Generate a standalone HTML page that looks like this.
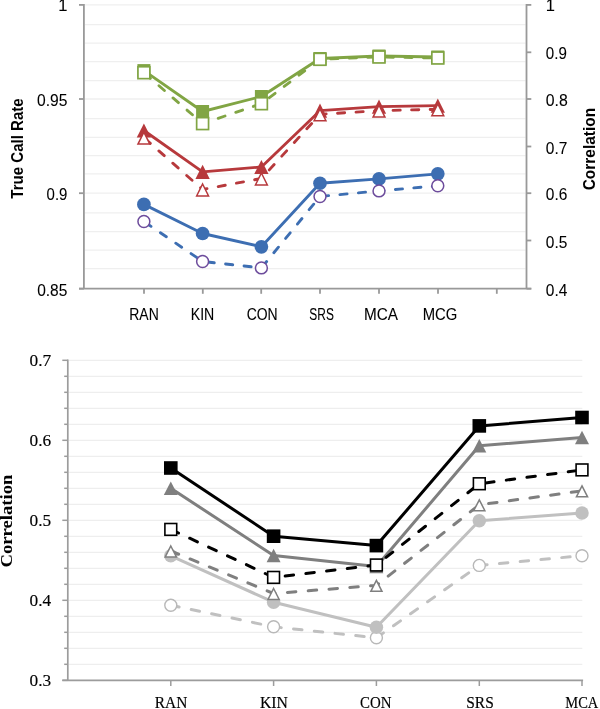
<!DOCTYPE html>
<html><head><meta charset="utf-8"><style>
html,body{margin:0;padding:0;background:#fff;width:600px;height:709px;overflow:hidden}
svg{display:block;position:absolute;left:0;top:0;will-change:transform}
</style></head><body>
<svg width="600" height="709" viewBox="0 0 600 709">
<rect width="600" height="709" fill="#fff"/>
<line x1="84.9" y1="4.90" x2="525.5" y2="4.90" stroke="#efefef" stroke-width="1.3"/>
<line x1="84.9" y1="24.70" x2="525.5" y2="24.70" stroke="#efefef" stroke-width="1.3"/>
<line x1="84.9" y1="43.05" x2="525.5" y2="43.05" stroke="#efefef" stroke-width="1.3"/>
<line x1="84.9" y1="61.60" x2="525.5" y2="61.60" stroke="#efefef" stroke-width="1.3"/>
<line x1="84.9" y1="80.70" x2="525.5" y2="80.70" stroke="#efefef" stroke-width="1.3"/>
<line x1="84.9" y1="99.00" x2="525.5" y2="99.00" stroke="#efefef" stroke-width="1.3"/>
<line x1="84.9" y1="118.70" x2="525.5" y2="118.70" stroke="#efefef" stroke-width="1.3"/>
<line x1="84.9" y1="137.40" x2="525.5" y2="137.40" stroke="#efefef" stroke-width="1.3"/>
<line x1="84.9" y1="155.60" x2="525.5" y2="155.60" stroke="#efefef" stroke-width="1.3"/>
<line x1="84.9" y1="173.90" x2="525.5" y2="173.90" stroke="#efefef" stroke-width="1.3"/>
<line x1="84.9" y1="193.20" x2="525.5" y2="193.20" stroke="#efefef" stroke-width="1.3"/>
<line x1="84.9" y1="212.90" x2="525.5" y2="212.90" stroke="#efefef" stroke-width="1.3"/>
<line x1="84.9" y1="231.60" x2="525.5" y2="231.60" stroke="#efefef" stroke-width="1.3"/>
<line x1="84.9" y1="250.20" x2="525.5" y2="250.20" stroke="#efefef" stroke-width="1.3"/>
<line x1="84.9" y1="268.60" x2="525.5" y2="268.60" stroke="#efefef" stroke-width="1.3"/>
<line x1="83.9" y1="4.1000000000000005" x2="83.9" y2="288.7" stroke="#999999" stroke-width="1.8"/>
<line x1="526.5" y1="4.1000000000000005" x2="526.5" y2="288.7" stroke="#999999" stroke-width="1.8"/>
<line x1="79" y1="4.90" x2="83.9" y2="4.90" stroke="#999999" stroke-width="1.8"/>
<line x1="79" y1="99.00" x2="83.9" y2="99.00" stroke="#999999" stroke-width="1.8"/>
<line x1="79" y1="193.20" x2="83.9" y2="193.20" stroke="#999999" stroke-width="1.8"/>
<line x1="79" y1="288.70" x2="83.9" y2="288.70" stroke="#999999" stroke-width="1.8"/>
<line x1="526.5" y1="4.90" x2="531.3" y2="4.90" stroke="#999999" stroke-width="1.8"/>
<line x1="526.5" y1="52.30" x2="531.3" y2="52.30" stroke="#999999" stroke-width="1.8"/>
<line x1="526.5" y1="99.00" x2="531.3" y2="99.00" stroke="#999999" stroke-width="1.8"/>
<line x1="526.5" y1="146.50" x2="531.3" y2="146.50" stroke="#999999" stroke-width="1.8"/>
<line x1="526.5" y1="193.20" x2="531.3" y2="193.20" stroke="#999999" stroke-width="1.8"/>
<line x1="526.5" y1="240.50" x2="531.3" y2="240.50" stroke="#999999" stroke-width="1.8"/>
<line x1="526.5" y1="288.70" x2="531.3" y2="288.70" stroke="#999999" stroke-width="1.8"/>
<line x1="79" y1="288.7" x2="531.3" y2="288.7" stroke="#999999" stroke-width="1.8"/>
<line x1="144.0" y1="288.7" x2="144.0" y2="293.8" stroke="#999999" stroke-width="1.8"/>
<line x1="202.8" y1="288.7" x2="202.8" y2="293.8" stroke="#999999" stroke-width="1.8"/>
<line x1="261.2" y1="288.7" x2="261.2" y2="293.8" stroke="#999999" stroke-width="1.8"/>
<line x1="320.0" y1="288.7" x2="320.0" y2="293.8" stroke="#999999" stroke-width="1.8"/>
<line x1="379.0" y1="288.7" x2="379.0" y2="293.8" stroke="#999999" stroke-width="1.8"/>
<line x1="438.0" y1="288.7" x2="438.0" y2="293.8" stroke="#999999" stroke-width="1.8"/>
<line x1="496.8" y1="288.7" x2="496.8" y2="293.8" stroke="#999999" stroke-width="1.8"/>
<polyline points="143.90,204.40 202.60,233.50 261.40,246.80 320.00,183.25 379.00,178.90 437.80,173.80" fill="none" stroke="#3d6eb2" stroke-width="2.85" stroke-linejoin="round" stroke-linecap="butt"/>
<circle cx="143.90" cy="204.40" r="6.85" fill="#3d6eb2"/>
<circle cx="202.60" cy="233.50" r="6.85" fill="#3d6eb2"/>
<circle cx="261.40" cy="246.80" r="6.85" fill="#3d6eb2"/>
<circle cx="320.00" cy="183.25" r="6.85" fill="#3d6eb2"/>
<circle cx="379.00" cy="178.90" r="6.85" fill="#3d6eb2"/>
<circle cx="437.80" cy="173.80" r="6.85" fill="#3d6eb2"/>
<polyline points="143.90,221.50 202.60,261.50 261.40,267.90 320.00,196.50 379.00,190.90 437.80,185.80" fill="none" stroke="#3d6eb2" stroke-width="2.85" stroke-linejoin="round" stroke-linecap="round" stroke-dasharray="7.2 11.35" stroke-dashoffset="-1.4"/>
<circle cx="143.90" cy="221.50" r="5.95" fill="#fff" stroke="#6d4c9c" stroke-width="1.5"/>
<circle cx="202.60" cy="261.50" r="5.95" fill="#fff" stroke="#6d4c9c" stroke-width="1.5"/>
<circle cx="261.40" cy="267.90" r="5.95" fill="#fff" stroke="#6d4c9c" stroke-width="1.5"/>
<circle cx="320.00" cy="196.50" r="5.95" fill="#fff" stroke="#6d4c9c" stroke-width="1.5"/>
<circle cx="379.00" cy="190.90" r="5.95" fill="#fff" stroke="#6d4c9c" stroke-width="1.5"/>
<circle cx="437.80" cy="185.80" r="5.95" fill="#fff" stroke="#6d4c9c" stroke-width="1.5"/>
<polyline points="143.90,130.50 202.60,171.80 261.40,167.00 320.00,110.70 379.00,106.70 437.80,105.70" fill="none" stroke="#b7393c" stroke-width="2.85" stroke-linejoin="round" stroke-linecap="butt"/>
<polygon points="143.90,123.40 151.05,137.60 136.75,137.60" fill="#b7393c"/>
<polygon points="202.60,164.70 209.75,178.90 195.45,178.90" fill="#b7393c"/>
<polygon points="261.40,159.90 268.55,174.10 254.25,174.10" fill="#b7393c"/>
<polygon points="320.00,103.60 327.15,117.80 312.85,117.80" fill="#b7393c"/>
<polygon points="379.00,99.60 386.15,113.80 371.85,113.80" fill="#b7393c"/>
<polygon points="437.80,98.60 444.95,112.80 430.65,112.80" fill="#b7393c"/>
<polyline points="143.90,137.70 202.60,189.50 261.40,178.50 320.00,114.30 379.00,110.70 437.80,109.30" fill="none" stroke="#b7393c" stroke-width="2.85" stroke-linejoin="round" stroke-linecap="round" stroke-dasharray="7.2 11.35" stroke-dashoffset="-1.4"/>
<polygon points="143.90,132.23 149.84,144.10 137.96,144.10" fill="#fff" stroke="#b7393c" stroke-width="1.5" stroke-linejoin="miter" stroke-miterlimit="10"/>
<polygon points="202.60,184.03 208.54,195.90 196.66,195.90" fill="#fff" stroke="#b7393c" stroke-width="1.5" stroke-linejoin="miter" stroke-miterlimit="10"/>
<polygon points="261.40,173.03 267.34,184.90 255.46,184.90" fill="#fff" stroke="#b7393c" stroke-width="1.5" stroke-linejoin="miter" stroke-miterlimit="10"/>
<polygon points="320.00,108.83 325.94,120.70 314.06,120.70" fill="#fff" stroke="#b7393c" stroke-width="1.5" stroke-linejoin="miter" stroke-miterlimit="10"/>
<polygon points="379.00,105.23 384.94,117.10 373.06,117.10" fill="#fff" stroke="#b7393c" stroke-width="1.5" stroke-linejoin="miter" stroke-miterlimit="10"/>
<polygon points="437.80,103.83 443.74,115.70 431.86,115.70" fill="#fff" stroke="#b7393c" stroke-width="1.5" stroke-linejoin="miter" stroke-miterlimit="10"/>
<polyline points="143.90,70.60 202.60,111.50 261.40,96.50 320.00,58.50 379.00,56.00 437.80,57.00" fill="none" stroke="#81a544" stroke-width="2.85" stroke-linejoin="round" stroke-linecap="butt"/>
<rect x="137.40" y="64.10" width="13.00" height="13.00" fill="#81a544"/>
<rect x="196.10" y="105.00" width="13.00" height="13.00" fill="#81a544"/>
<rect x="254.90" y="90.00" width="13.00" height="13.00" fill="#81a544"/>
<rect x="313.50" y="52.00" width="13.00" height="13.00" fill="#81a544"/>
<rect x="372.50" y="49.50" width="13.00" height="13.00" fill="#81a544"/>
<rect x="431.30" y="50.50" width="13.00" height="13.00" fill="#81a544"/>
<polyline points="143.90,72.70 202.60,123.60 261.40,103.70 320.00,59.30 379.00,57.00 437.80,58.00" fill="none" stroke="#81a544" stroke-width="2.85" stroke-linejoin="round" stroke-linecap="round" stroke-dasharray="7.2 11.35" stroke-dashoffset="-1.4"/>
<rect x="137.95" y="66.75" width="11.90" height="11.90" fill="#fff" stroke="#81a544" stroke-width="1.7"/>
<rect x="196.65" y="117.65" width="11.90" height="11.90" fill="#fff" stroke="#81a544" stroke-width="1.7"/>
<rect x="255.45" y="97.75" width="11.90" height="11.90" fill="#fff" stroke="#81a544" stroke-width="1.7"/>
<rect x="314.05" y="53.35" width="11.90" height="11.90" fill="#fff" stroke="#81a544" stroke-width="1.7"/>
<rect x="373.05" y="51.05" width="11.90" height="11.90" fill="#fff" stroke="#81a544" stroke-width="1.7"/>
<rect x="431.85" y="52.05" width="11.90" height="11.90" fill="#fff" stroke="#81a544" stroke-width="1.7"/>
<line x1="68.8" y1="360.30" x2="582.3" y2="360.30" stroke="#eeeeee" stroke-width="1.3"/>
<line x1="68.8" y1="376.30" x2="582.3" y2="376.30" stroke="#eeeeee" stroke-width="1.3"/>
<line x1="68.8" y1="392.30" x2="582.3" y2="392.30" stroke="#eeeeee" stroke-width="1.3"/>
<line x1="68.8" y1="408.30" x2="582.3" y2="408.30" stroke="#eeeeee" stroke-width="1.3"/>
<line x1="68.8" y1="424.30" x2="582.3" y2="424.30" stroke="#eeeeee" stroke-width="1.3"/>
<line x1="68.8" y1="440.30" x2="582.3" y2="440.30" stroke="#eeeeee" stroke-width="1.3"/>
<line x1="68.8" y1="456.30" x2="582.3" y2="456.30" stroke="#eeeeee" stroke-width="1.3"/>
<line x1="68.8" y1="472.30" x2="582.3" y2="472.30" stroke="#eeeeee" stroke-width="1.3"/>
<line x1="68.8" y1="488.30" x2="582.3" y2="488.30" stroke="#eeeeee" stroke-width="1.3"/>
<line x1="68.8" y1="504.30" x2="582.3" y2="504.30" stroke="#eeeeee" stroke-width="1.3"/>
<line x1="68.8" y1="520.30" x2="582.3" y2="520.30" stroke="#eeeeee" stroke-width="1.3"/>
<line x1="68.8" y1="536.30" x2="582.3" y2="536.30" stroke="#eeeeee" stroke-width="1.3"/>
<line x1="68.8" y1="552.30" x2="582.3" y2="552.30" stroke="#eeeeee" stroke-width="1.3"/>
<line x1="68.8" y1="568.30" x2="582.3" y2="568.30" stroke="#eeeeee" stroke-width="1.3"/>
<line x1="68.8" y1="584.30" x2="582.3" y2="584.30" stroke="#eeeeee" stroke-width="1.3"/>
<line x1="68.8" y1="600.30" x2="582.3" y2="600.30" stroke="#eeeeee" stroke-width="1.3"/>
<line x1="68.8" y1="616.30" x2="582.3" y2="616.30" stroke="#eeeeee" stroke-width="1.3"/>
<line x1="68.8" y1="632.30" x2="582.3" y2="632.30" stroke="#eeeeee" stroke-width="1.3"/>
<line x1="68.8" y1="648.30" x2="582.3" y2="648.30" stroke="#eeeeee" stroke-width="1.3"/>
<line x1="68.8" y1="664.30" x2="582.3" y2="664.30" stroke="#eeeeee" stroke-width="1.3"/>
<line x1="67.8" y1="359.5" x2="67.8" y2="680.3" stroke="#9c9c9c" stroke-width="1.7"/>
<line x1="62.3" y1="360.30" x2="67.8" y2="360.30" stroke="#9c9c9c" stroke-width="1.5"/>
<line x1="64.2" y1="376.30" x2="67.8" y2="376.30" stroke="#9c9c9c" stroke-width="1.5"/>
<line x1="64.2" y1="392.30" x2="67.8" y2="392.30" stroke="#9c9c9c" stroke-width="1.5"/>
<line x1="64.2" y1="408.30" x2="67.8" y2="408.30" stroke="#9c9c9c" stroke-width="1.5"/>
<line x1="64.2" y1="424.30" x2="67.8" y2="424.30" stroke="#9c9c9c" stroke-width="1.5"/>
<line x1="62.3" y1="440.30" x2="67.8" y2="440.30" stroke="#9c9c9c" stroke-width="1.5"/>
<line x1="64.2" y1="456.30" x2="67.8" y2="456.30" stroke="#9c9c9c" stroke-width="1.5"/>
<line x1="64.2" y1="472.30" x2="67.8" y2="472.30" stroke="#9c9c9c" stroke-width="1.5"/>
<line x1="64.2" y1="488.30" x2="67.8" y2="488.30" stroke="#9c9c9c" stroke-width="1.5"/>
<line x1="64.2" y1="504.30" x2="67.8" y2="504.30" stroke="#9c9c9c" stroke-width="1.5"/>
<line x1="62.3" y1="520.30" x2="67.8" y2="520.30" stroke="#9c9c9c" stroke-width="1.5"/>
<line x1="64.2" y1="536.30" x2="67.8" y2="536.30" stroke="#9c9c9c" stroke-width="1.5"/>
<line x1="64.2" y1="552.30" x2="67.8" y2="552.30" stroke="#9c9c9c" stroke-width="1.5"/>
<line x1="64.2" y1="568.30" x2="67.8" y2="568.30" stroke="#9c9c9c" stroke-width="1.5"/>
<line x1="64.2" y1="584.30" x2="67.8" y2="584.30" stroke="#9c9c9c" stroke-width="1.5"/>
<line x1="62.3" y1="600.30" x2="67.8" y2="600.30" stroke="#9c9c9c" stroke-width="1.5"/>
<line x1="64.2" y1="616.30" x2="67.8" y2="616.30" stroke="#9c9c9c" stroke-width="1.5"/>
<line x1="64.2" y1="632.30" x2="67.8" y2="632.30" stroke="#9c9c9c" stroke-width="1.5"/>
<line x1="64.2" y1="648.30" x2="67.8" y2="648.30" stroke="#9c9c9c" stroke-width="1.5"/>
<line x1="64.2" y1="664.30" x2="67.8" y2="664.30" stroke="#9c9c9c" stroke-width="1.5"/>
<line x1="62.3" y1="680.30" x2="67.8" y2="680.30" stroke="#9c9c9c" stroke-width="1.5"/>
<line x1="62.3" y1="680.3" x2="583.0999999999999" y2="680.3" stroke="#9c9c9c" stroke-width="1.7"/>
<line x1="170.8" y1="680.3" x2="170.8" y2="686" stroke="#9c9c9c" stroke-width="1.5"/>
<line x1="273.6" y1="680.3" x2="273.6" y2="686" stroke="#9c9c9c" stroke-width="1.5"/>
<line x1="376.4" y1="680.3" x2="376.4" y2="686" stroke="#9c9c9c" stroke-width="1.5"/>
<line x1="479.3" y1="680.3" x2="479.3" y2="686" stroke="#9c9c9c" stroke-width="1.5"/>
<line x1="582.0" y1="680.3" x2="582.0" y2="686" stroke="#9c9c9c" stroke-width="1.5"/>
<polyline points="170.80,605.20 273.60,626.80 376.40,637.80 479.30,565.40 582.00,555.70" fill="none" stroke="#c0c0c0" stroke-width="3.0" stroke-linejoin="round" stroke-linecap="round" stroke-dasharray="8.5 12.35" stroke-dashoffset="0"/>
<circle cx="170.80" cy="605.20" r="6.00" fill="#fff" stroke="#b8b8b8" stroke-width="1.4"/>
<circle cx="273.60" cy="626.80" r="6.00" fill="#fff" stroke="#b8b8b8" stroke-width="1.4"/>
<circle cx="376.40" cy="637.80" r="6.00" fill="#fff" stroke="#b8b8b8" stroke-width="1.4"/>
<circle cx="479.30" cy="565.40" r="6.00" fill="#fff" stroke="#b8b8b8" stroke-width="1.4"/>
<circle cx="582.00" cy="555.70" r="6.00" fill="#fff" stroke="#b8b8b8" stroke-width="1.4"/>
<polyline points="170.80,555.80 273.60,602.20 376.40,627.30 479.30,520.80 582.00,512.90" fill="none" stroke="#c0c0c0" stroke-width="3.0" stroke-linejoin="round" stroke-linecap="butt"/>
<circle cx="170.80" cy="555.80" r="6.75" fill="#c0c0c0"/>
<circle cx="273.60" cy="602.20" r="6.75" fill="#c0c0c0"/>
<circle cx="376.40" cy="627.30" r="6.75" fill="#c0c0c0"/>
<circle cx="479.30" cy="520.80" r="6.75" fill="#c0c0c0"/>
<circle cx="582.00" cy="512.90" r="6.75" fill="#c0c0c0"/>
<polyline points="170.80,488.30 273.60,555.50 376.40,566.50 479.30,445.80 582.00,437.50" fill="none" stroke="#7f7f7f" stroke-width="3.0" stroke-linejoin="round" stroke-linecap="butt"/>
<polygon points="170.80,481.50 177.80,495.10 163.80,495.10" fill="#7f7f7f"/>
<polygon points="273.60,548.70 280.60,562.30 266.60,562.30" fill="#7f7f7f"/>
<polygon points="376.40,559.70 383.40,573.30 369.40,573.30" fill="#7f7f7f"/>
<polygon points="479.30,439.00 486.30,452.60 472.30,452.60" fill="#7f7f7f"/>
<polygon points="582.00,430.70 589.00,444.30 575.00,444.30" fill="#7f7f7f"/>
<polyline points="170.80,468.00 273.60,536.20 376.40,545.60 479.30,425.90 582.00,417.50" fill="none" stroke="#000" stroke-width="3.0" stroke-linejoin="round" stroke-linecap="butt"/>
<rect x="164.00" y="461.20" width="13.60" height="13.60" fill="#000"/>
<rect x="266.80" y="529.40" width="13.60" height="13.60" fill="#000"/>
<rect x="369.60" y="538.80" width="13.60" height="13.60" fill="#000"/>
<rect x="472.50" y="419.10" width="13.60" height="13.60" fill="#000"/>
<rect x="575.20" y="410.70" width="13.60" height="13.60" fill="#000"/>
<polyline points="170.80,551.00 273.60,593.50 376.40,585.40 479.30,504.80 582.00,490.90" fill="none" stroke="#7f7f7f" stroke-width="3.0" stroke-linejoin="round" stroke-linecap="round" stroke-dasharray="8.5 12.35" stroke-dashoffset="0"/>
<polygon points="170.80,546.00 176.37,556.90 165.23,556.90" fill="#fff" stroke="#7f7f7f" stroke-width="1.5" stroke-linejoin="miter" stroke-miterlimit="10"/>
<polygon points="273.60,588.50 279.17,599.40 268.03,599.40" fill="#fff" stroke="#7f7f7f" stroke-width="1.5" stroke-linejoin="miter" stroke-miterlimit="10"/>
<polygon points="376.40,580.40 381.97,591.30 370.83,591.30" fill="#fff" stroke="#7f7f7f" stroke-width="1.5" stroke-linejoin="miter" stroke-miterlimit="10"/>
<polygon points="479.30,499.80 484.87,510.70 473.73,510.70" fill="#fff" stroke="#7f7f7f" stroke-width="1.5" stroke-linejoin="miter" stroke-miterlimit="10"/>
<polygon points="582.00,485.90 587.57,496.80 576.43,496.80" fill="#fff" stroke="#7f7f7f" stroke-width="1.5" stroke-linejoin="miter" stroke-miterlimit="10"/>
<polyline points="170.80,529.40 273.60,577.40 376.40,565.00 479.30,483.75 582.00,469.90" fill="none" stroke="#000" stroke-width="3.0" stroke-linejoin="round" stroke-linecap="round" stroke-dasharray="8.5 12.35" stroke-dashoffset="0"/>
<rect x="164.90" y="523.50" width="11.80" height="11.80" fill="#fff" stroke="#000" stroke-width="1.6"/>
<rect x="267.70" y="571.50" width="11.80" height="11.80" fill="#fff" stroke="#000" stroke-width="1.6"/>
<rect x="370.50" y="559.10" width="11.80" height="11.80" fill="#fff" stroke="#000" stroke-width="1.6"/>
<rect x="473.40" y="477.85" width="11.80" height="11.80" fill="#fff" stroke="#000" stroke-width="1.6"/>
<rect x="576.10" y="464.00" width="11.80" height="11.80" fill="#fff" stroke="#000" stroke-width="1.6"/>
<text x="67.4" y="10.70" text-anchor="end" font-family='"Liberation Sans", sans-serif' font-size="16.5" stroke="#000" stroke-width="0.08">1</text>
<text x="67.4" y="106.20" text-anchor="end" textLength="30.4" lengthAdjust="spacingAndGlyphs" font-family='"Liberation Sans", sans-serif' font-size="16.5" stroke="#000" stroke-width="0.08">0.95</text>
<text x="67.4" y="200.40" text-anchor="end" textLength="20.8" lengthAdjust="spacingAndGlyphs" font-family='"Liberation Sans", sans-serif' font-size="16.5" stroke="#000" stroke-width="0.08">0.9</text>
<text x="67.4" y="295.90" text-anchor="end" textLength="30.2" lengthAdjust="spacingAndGlyphs" font-family='"Liberation Sans", sans-serif' font-size="16.5" stroke="#000" stroke-width="0.08">0.85</text>
<text x="545.8" y="10.80" font-family='"Liberation Sans", sans-serif' font-size="16.5" stroke="#000" stroke-width="0.08">1</text>
<text x="545.8" y="59.30" textLength="21" lengthAdjust="spacingAndGlyphs" font-family='"Liberation Sans", sans-serif' font-size="16.5" stroke="#000" stroke-width="0.08">0.9</text>
<text x="545.8" y="106.00" textLength="22" lengthAdjust="spacingAndGlyphs" font-family='"Liberation Sans", sans-serif' font-size="16.5" stroke="#000" stroke-width="0.08">0.8</text>
<text x="545.8" y="153.50" textLength="21.5" lengthAdjust="spacingAndGlyphs" font-family='"Liberation Sans", sans-serif' font-size="16.5" stroke="#000" stroke-width="0.08">0.7</text>
<text x="545.8" y="200.20" textLength="21.5" lengthAdjust="spacingAndGlyphs" font-family='"Liberation Sans", sans-serif' font-size="16.5" stroke="#000" stroke-width="0.08">0.6</text>
<text x="545.8" y="247.50" textLength="21.5" lengthAdjust="spacingAndGlyphs" font-family='"Liberation Sans", sans-serif' font-size="16.5" stroke="#000" stroke-width="0.08">0.5</text>
<text x="545.8" y="295.70" textLength="21.5" lengthAdjust="spacingAndGlyphs" font-family='"Liberation Sans", sans-serif' font-size="16.5" stroke="#000" stroke-width="0.08">0.4</text>
<text x="144.0" y="319.5" text-anchor="middle" textLength="29.5" lengthAdjust="spacingAndGlyphs" font-family='"Liberation Sans", sans-serif' font-size="16.3" stroke="#000" stroke-width="0.08">RAN</text>
<text x="202.5" y="319.5" text-anchor="middle" textLength="23.5" lengthAdjust="spacingAndGlyphs" font-family='"Liberation Sans", sans-serif' font-size="16.3" stroke="#000" stroke-width="0.08">KIN</text>
<text x="262.2" y="319.5" text-anchor="middle" textLength="31" lengthAdjust="spacingAndGlyphs" font-family='"Liberation Sans", sans-serif' font-size="16.3" stroke="#000" stroke-width="0.08">CON</text>
<text x="321.6" y="319.5" text-anchor="middle" textLength="24.5" lengthAdjust="spacingAndGlyphs" font-family='"Liberation Sans", sans-serif' font-size="16.3" stroke="#000" stroke-width="0.08">SRS</text>
<text x="381.0" y="319.5" text-anchor="middle" textLength="34" lengthAdjust="spacingAndGlyphs" font-family='"Liberation Sans", sans-serif' font-size="16.3" stroke="#000" stroke-width="0.08">MCA</text>
<text x="440.0" y="319.5" text-anchor="middle" textLength="34.6" lengthAdjust="spacingAndGlyphs" font-family='"Liberation Sans", sans-serif' font-size="16.3" stroke="#000" stroke-width="0.08">MCG</text>
<text transform="translate(23.3,148.5) rotate(-90)" text-anchor="middle" textLength="100.4" lengthAdjust="spacingAndGlyphs" font-family='"Liberation Sans", sans-serif' font-weight="bold" font-size="15.9">True Call Rate</text>
<text transform="translate(594.9,149.1) rotate(-90)" text-anchor="middle" textLength="82.4" lengthAdjust="spacingAndGlyphs" font-family='"Liberation Sans", sans-serif' font-weight="bold" font-size="16.6">Correlation</text>
<text x="51.2" y="365.90" text-anchor="end" font-family='"Liberation Serif", serif' font-size="17.3" stroke="#000" stroke-width="0.15">0.7</text>
<text x="51.2" y="445.90" text-anchor="end" font-family='"Liberation Serif", serif' font-size="17.3" stroke="#000" stroke-width="0.15">0.6</text>
<text x="51.2" y="525.90" text-anchor="end" font-family='"Liberation Serif", serif' font-size="17.3" stroke="#000" stroke-width="0.15">0.5</text>
<text x="51.2" y="605.90" text-anchor="end" font-family='"Liberation Serif", serif' font-size="17.3" stroke="#000" stroke-width="0.15">0.4</text>
<text x="51.2" y="685.90" text-anchor="end" font-family='"Liberation Serif", serif' font-size="17.3" stroke="#000" stroke-width="0.15">0.3</text>
<text x="171.1" y="707.8" text-anchor="middle" textLength="32.5" lengthAdjust="spacingAndGlyphs" font-family='"Liberation Serif", serif' font-size="17.5" stroke="#000" stroke-width="0.15">RAN</text>
<text x="273.9" y="707.8" text-anchor="middle" textLength="28" lengthAdjust="spacingAndGlyphs" font-family='"Liberation Serif", serif' font-size="17.5" stroke="#000" stroke-width="0.15">KIN</text>
<text x="375.7" y="707.8" text-anchor="middle" textLength="31.5" lengthAdjust="spacingAndGlyphs" font-family='"Liberation Serif", serif' font-size="17.5" stroke="#000" stroke-width="0.15">CON</text>
<text x="480.0" y="707.8" text-anchor="middle" textLength="27.5" lengthAdjust="spacingAndGlyphs" font-family='"Liberation Serif", serif' font-size="17.5" stroke="#000" stroke-width="0.15">SRS</text>
<text x="581.8" y="707.8" text-anchor="middle" textLength="33" lengthAdjust="spacingAndGlyphs" font-family='"Liberation Serif", serif' font-size="17.5" stroke="#000" stroke-width="0.15">MCA</text>
<text transform="translate(12.3,521.0) rotate(-90)" text-anchor="middle" textLength="93" lengthAdjust="spacingAndGlyphs" font-family='"Liberation Serif", serif' font-weight="bold" font-size="17.2">Correlation</text>
</svg>
</body></html>
